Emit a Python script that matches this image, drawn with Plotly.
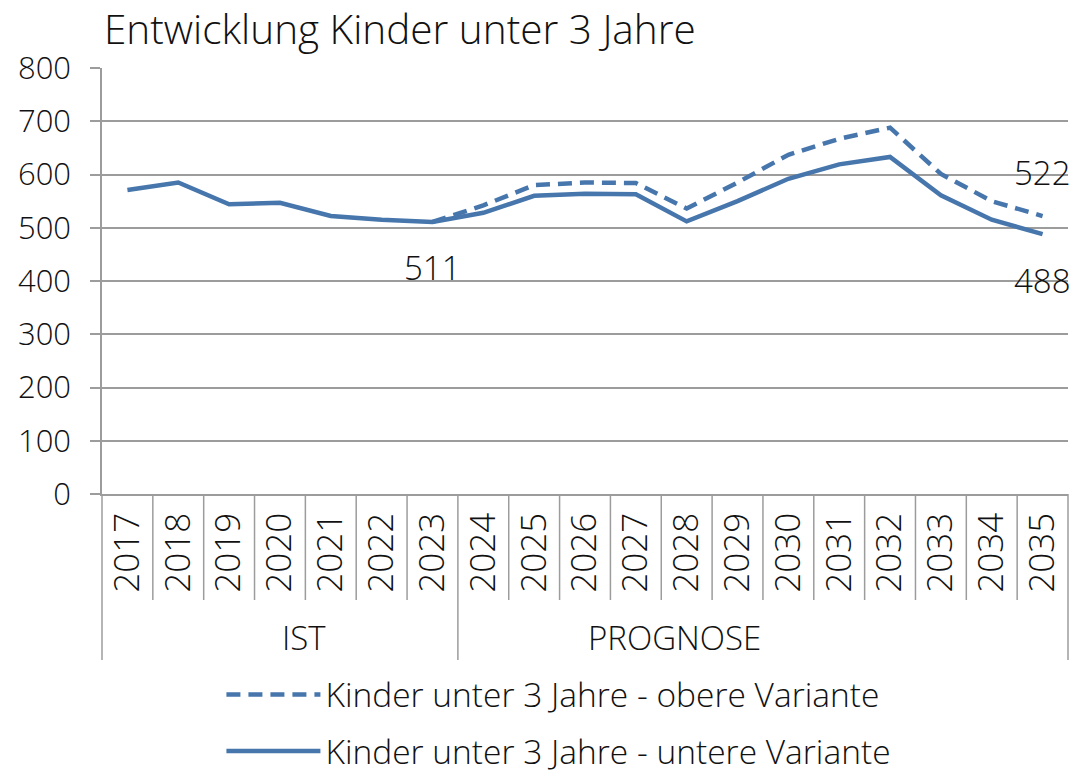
import plotly.graph_objects as go

years = [str(y) for y in range(2017, 2036)]
obere = [None, None, None, None, None, None, 511, 542, 580, 585, 584, 536, 585, 637, 667, 688, 601, 550, 522]
untere = [571, 585, 544, 547, 522, 515, 511, 528, 560, 564, 563, 512, 550, 592, 619, 633, 561, 515, 488]
groups = ["IST"] * 7 + ["PROGNOSE"] * 12
y_ticks = list(range(0, 801, 100))

name_obere = "Kinder unter 3 Jahre - obere Variante"
name_untere = "Kinder unter 3 Jahre - untere Variante"
title_text = "Entwicklung Kinder unter 3 Jahre"

COLOR = "#4676ac"
GRID = "#9c9c9c"
FONT = "Open Sans, Liberation Sans, sans-serif"
TXT = "#111111"
W = 300

FIG_W, FIG_H = 1072, 766  # page body adds an 8px offset

def f(size):
    return dict(family=FONT, size=size, color=TXT, weight=W)

fig = go.Figure()
fig.add_trace(go.Scatter(x=years, y=obere, mode="lines", name=name_obere,
                         line=dict(color=COLOR, width=4.5, dash="14px,8px"),
                         legendgroup="a", connectgaps=False))
fig.add_trace(go.Scatter(x=years, y=untere, mode="lines", name=name_untere,
                         line=dict(color=COLOR, width=4.5),
                         legendgroup="b"))

# data labels
def label(i, val, shift):
    fig.add_annotation(x=i, y=val, xref="x", yref="y", text=str(val), showarrow=False,
                       yshift=shift, font=f(33))

i23 = years.index("2023")
label(i23, untere[i23], -46)
label(len(years) - 1, obere[-1], 44)
label(len(years) - 1, untere[-1], -46)

# dividers under the x axis
n = len(years)
plot_h = 426
small = -106 / plot_h
big = -166 / plot_h
boundaries_big = {0, n}
for gi in range(1, n):
    if groups[gi] != groups[gi - 1]:
        boundaries_big.add(gi)
for b in range(0, n + 1):
    fig.add_shape(type="line", xref="x domain", yref="paper",
                  x0=b / n, x1=b / n, y0=0, y1=big if b in boundaries_big else small,
                  line=dict(color=GRID, width=1.5))

# group labels
seen = []
for g in groups:
    if g not in seen:
        seen.append(g)
for g in seen:
    idx = [i for i, gg in enumerate(groups) if gg == g]
    center = (min(idx) + max(idx) + 1) / 2 / n
    fig.add_annotation(x=center, y=-143 / plot_h, xref="x domain", yref="paper",
                       text=g, showarrow=False, font=f(33), yanchor="middle")

fig.update_layout(
    width=FIG_W, height=FIG_H,
    margin=dict(l=94, r=12, t=60, b=280, autoexpand=False),
    paper_bgcolor="white", plot_bgcolor="white",
    font=f(30),
    title=dict(text=title_text, x=96 / FIG_W, xanchor="left", xref="container",
               y=1 - 22 / FIG_H, yanchor="middle", yref="container",
               font=f(40.5)),
    showlegend=True,
    legend=dict(orientation="v", x=0.473, xanchor="center", y=-0.404, yanchor="top",
                font=f(33.5), itemwidth=94,
                tracegroupgap=10, traceorder="grouped", bgcolor="rgba(0,0,0,0)"),
)
fig.update_xaxes(type="category", range=[-0.5, n - 0.5], tickangle=-90, showgrid=False,
                 showline=True, linecolor=GRID, linewidth=1.5, ticks="", automargin=False,
                 tickfont=f(35), ticklabelstandoff=3)
fig.update_yaxes(range=[0, 800], tickvals=y_ticks, showgrid=True, gridcolor=GRID, gridwidth=1.5,
                 showline=True, linecolor=GRID, linewidth=1.5, ticks="outside", ticklen=10,
                 tickcolor=GRID, tickwidth=1.5, zeroline=False, automargin=False,
                 tickfont=f(31), ticklabelstandoff=13)

fig.write_html("out.html")
